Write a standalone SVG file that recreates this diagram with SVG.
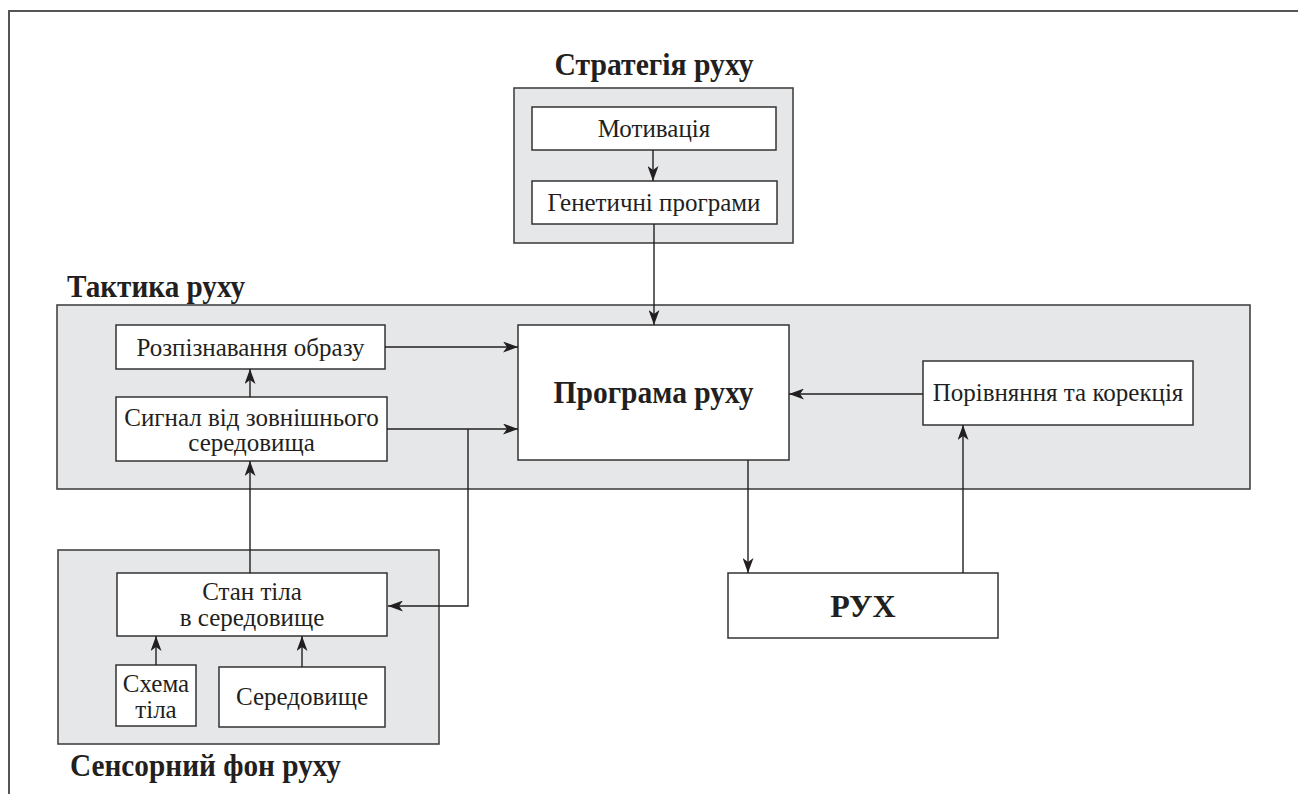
<svg xmlns="http://www.w3.org/2000/svg" width="1298" height="794" viewBox="0 0 1298 794">
<defs>
<style>
.bg{fill:#ffffff}
.frame{fill:none;stroke:#555;stroke-width:2}
.grp{fill:#e6e7e8;stroke:#444;stroke-width:1.6}
.box{fill:#ffffff;stroke:#333;stroke-width:1.5}
.t{font-family:"Liberation Serif","Times New Roman",serif;font-size:25px;fill:#231f20;text-anchor:middle}
.h{font-family:"Liberation Serif","Times New Roman",serif;font-size:31px;font-weight:bold;fill:#231f20}
.c{fill:none;stroke:#231f20;stroke-width:1.4}
</style>
<marker id="ah" viewBox="0 0 15 11" refX="15" refY="5.5" markerWidth="15" markerHeight="11" markerUnits="userSpaceOnUse" orient="auto">
<path d="M0,0 L15,5.5 L0,11 L4,5.5 z" fill="#231f20"/>
</marker>
</defs>
<rect class="bg" x="0" y="0" width="1298" height="794"/>
<path class="frame" d="M9,794 V11 H1298"/>

<g id="strategy">
<text class="h" x="654" y="75" text-anchor="middle" textLength="199" lengthAdjust="spacingAndGlyphs">Стратегія руху</text>
<rect class="grp" x="514" y="88" width="279" height="155"/>
</g>
<g id="motivation">
<rect class="box" x="532" y="107" width="244" height="43"/>
<text class="t" x="654" y="137">Мотивація</text>
</g>
<g id="genetic">
<rect class="box" x="532" y="181" width="245" height="43"/>
<text class="t" x="654" y="211">Генетичні програми</text>
</g>

<g id="tactics">
<text class="h" x="67" y="297" textLength="178" lengthAdjust="spacingAndGlyphs">Тактика руху</text>
<rect class="grp" x="57" y="305" width="1193" height="184"/>
</g>
<g id="recognition">
<rect class="box" x="116" y="325" width="269" height="44"/>
<text class="t" x="250.5" y="356">Розпізнавання образу</text>
</g>
<g id="signal">
<rect class="box" x="116" y="397" width="271" height="64"/>
<text class="t" x="251.5" y="426">Сигнал від зовнішнього</text>
<text class="t" x="251.5" y="451">середовища</text>
</g>
<g id="program">
<rect class="box" x="518" y="325" width="271" height="135"/>
<text class="h" x="653.5" y="403" text-anchor="middle" textLength="200" lengthAdjust="spacingAndGlyphs">Програма руху</text>
</g>
<g id="compare">
<rect class="box" x="923" y="361" width="270" height="64"/>
<text class="t" x="1058" y="401">Порівняння та корекція</text>
</g>

<g id="movement">
<rect class="box" x="728" y="573" width="270" height="65"/>
<text class="h" x="863" y="617" text-anchor="middle" style="font-size:32px">РУХ</text>
</g>

<g id="sensory">
<rect class="grp" x="58" y="550" width="381" height="194"/>
<text class="h" x="70" y="776" textLength="271" lengthAdjust="spacingAndGlyphs">Сенсорний фон руху</text>
</g>
<g id="state">
<rect class="box" x="117" y="573" width="270" height="63"/>
<text class="t" x="252" y="600">Стан тіла</text>
<text class="t" x="252" y="626">в середовище</text>
</g>
<g id="scheme">
<rect class="box" x="116" y="665" width="80" height="61"/>
<text class="t" x="156" y="692">Схема</text>
<text class="t" x="156" y="718">тіла</text>
</g>
<g id="environment">
<rect class="box" x="219" y="667" width="166" height="60"/>
<text class="t" x="302" y="705">Середовище</text>
</g>

<g id="connectors">
<path class="c" d="M653,150 V181" marker-end="url(#ah)"/>
<path class="c" d="M654,224 V325" marker-end="url(#ah)"/>
<path class="c" d="M385,347 H518" marker-end="url(#ah)"/>
<path class="c" d="M387,429 H518" marker-end="url(#ah)"/>
<path class="c" d="M250,397 V369" marker-end="url(#ah)"/>
<path class="c" d="M250,573 V461" marker-end="url(#ah)"/>
<path class="c" d="M468,429 V606 H388" marker-end="url(#ah)"/>
<path class="c" d="M923,394 H789" marker-end="url(#ah)"/>
<path class="c" d="M748,460 V573" marker-end="url(#ah)"/>
<path class="c" d="M963,573 V425" marker-end="url(#ah)"/>
<path class="c" d="M156,665 V636" marker-end="url(#ah)"/>
<path class="c" d="M302,667 V636" marker-end="url(#ah)"/>
</g>
</svg>
